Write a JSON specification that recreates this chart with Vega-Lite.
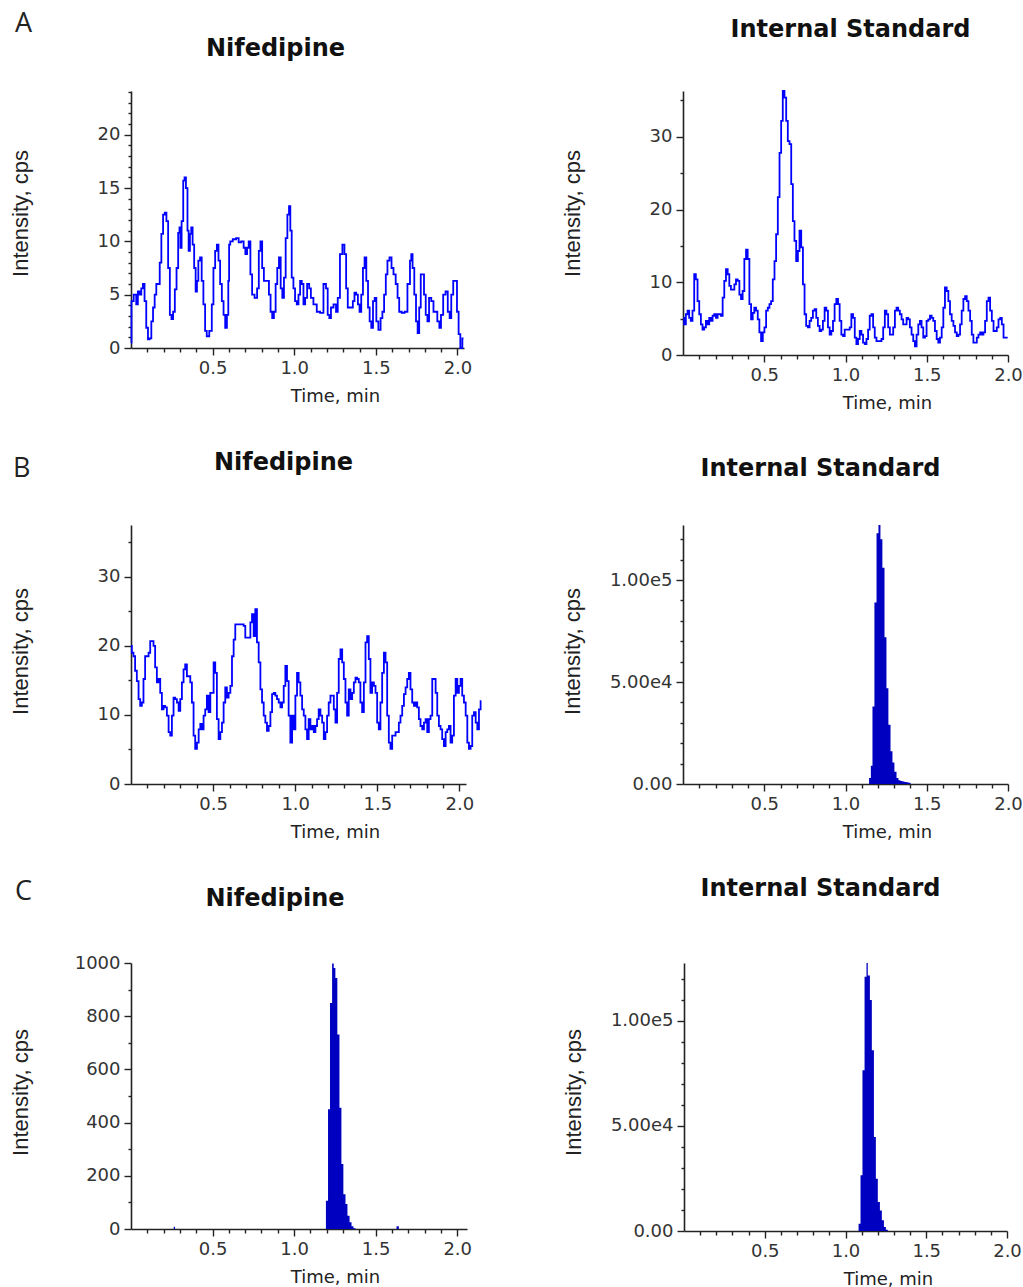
{
"$schema": "https://vega.github.io/schema/vega-lite/v6.json",
"background": "white",
"padding": {"left": 8, "top": 10, "right": 5, "bottom": 5},
"config": {
  "view": {"stroke": null},
  "axis": {"grid": false, "domainColor": "#222", "domainWidth": 1.6, "tickColor": "#222", "tickWidth": 1.4, "labelFont": "DejaVu Sans", "labelFontSize": 18, "labelColor": "#333", "labelOverlap": false, "labelBound": false, "labelFlush": false, "labelPadding": 4},
  "axisX": {"titleFont": "DejaVu Sans", "titleFontSize": 18, "titleFontWeight": "normal", "titleColor": "#222", "titleX": 204, "titleY": 48, "titleBaseline": "middle"},
  "axisY": {"titleFont": "Liberation Sans", "titleFontSize": 22, "titleFontWeight": "normal", "titleColor": "#222", "titleX": -111, "titleBaseline": "middle", "titleAngle": -90},
  "title": {"font": "DejaVu Sans", "fontSize": 24, "fontWeight": "bold", "color": "#111", "anchor": "middle", "baseline": "alphabetic"}
},
"datasets": {
"a1": [{"t":0.000,"v":0.5},{"t":0.006,"v":4.4},{"t":0.027,"v":5.0},{"t":0.037,"v":4.1},{"t":0.047,"v":5.3},{"t":0.058,"v":5.0},{"t":0.068,"v":5.6},{"t":0.078,"v":6.0},{"t":0.088,"v":4.4},{"t":0.099,"v":1.9},{"t":0.109,"v":0.8},{"t":0.119,"v":0.9},{"t":0.130,"v":2.5},{"t":0.140,"v":3.8},{"t":0.150,"v":5.0},{"t":0.160,"v":6.0},{"t":0.171,"v":6.0},{"t":0.181,"v":8.0},{"t":0.191,"v":10.7},{"t":0.202,"v":12.5},{"t":0.212,"v":12.7},{"t":0.222,"v":11.9},{"t":0.233,"v":7.5},{"t":0.243,"v":3.1},{"t":0.253,"v":2.7},{"t":0.263,"v":3.4},{"t":0.274,"v":5.5},{"t":0.284,"v":7.5},{"t":0.294,"v":10.8},{"t":0.300,"v":11.3},{"t":0.305,"v":9.4},{"t":0.315,"v":11.9},{"t":0.325,"v":15.7},{"t":0.331,"v":16.0},{"t":0.342,"v":15.0},{"t":0.350,"v":11.0},{"t":0.356,"v":9.1},{"t":0.366,"v":10.7},{"t":0.372,"v":11.3},{"t":0.383,"v":9.7},{"t":0.391,"v":7.5},{"t":0.401,"v":5.3},{"t":0.407,"v":6.3},{"t":0.418,"v":8.2},{"t":0.428,"v":8.5},{"t":0.438,"v":6.3},{"t":0.449,"v":4.1},{"t":0.459,"v":1.6},{"t":0.469,"v":1.1},{"t":0.490,"v":1.6},{"t":0.500,"v":4.1},{"t":0.510,"v":7.5},{"t":0.521,"v":9.1},{"t":0.531,"v":9.7},{"t":0.541,"v":8.2},{"t":0.551,"v":6.0},{"t":0.562,"v":4.4},{"t":0.572,"v":3.1},{"t":0.582,"v":1.9},{"t":0.593,"v":3.1},{"t":0.599,"v":6.3},{"t":0.603,"v":9.7},{"t":0.613,"v":10.0},{"t":0.634,"v":10.2},{"t":0.654,"v":10.3},{"t":0.665,"v":9.9},{"t":0.685,"v":10.0},{"t":0.695,"v":9.4},{"t":0.706,"v":8.8},{"t":0.716,"v":9.4},{"t":0.726,"v":10.0},{"t":0.737,"v":6.9},{"t":0.747,"v":5.0},{"t":0.767,"v":4.7},{"t":0.778,"v":5.6},{"t":0.788,"v":9.1},{"t":0.798,"v":10.0},{"t":0.809,"v":7.5},{"t":0.819,"v":6.3},{"t":0.840,"v":6.3},{"t":0.850,"v":5.0},{"t":0.860,"v":3.4},{"t":0.870,"v":2.8},{"t":0.881,"v":3.4},{"t":0.891,"v":6.0},{"t":0.901,"v":7.5},{"t":0.912,"v":8.5},{"t":0.922,"v":5.6},{"t":0.932,"v":4.7},{"t":0.942,"v":6.6},{"t":0.953,"v":10.3},{"t":0.963,"v":12.5},{"t":0.973,"v":13.3},{"t":0.979,"v":11.0},{"t":0.990,"v":6.6},{"t":1.000,"v":5.6},{"t":1.010,"v":4.4},{"t":1.021,"v":4.1},{"t":1.031,"v":5.0},{"t":1.041,"v":6.3},{"t":1.051,"v":6.0},{"t":1.062,"v":4.1},{"t":1.072,"v":4.7},{"t":1.086,"v":6.0},{"t":1.097,"v":5.6},{"t":1.107,"v":4.7},{"t":1.128,"v":4.1},{"t":1.148,"v":3.4},{"t":1.169,"v":3.3},{"t":1.189,"v":6.0},{"t":1.200,"v":5.6},{"t":1.210,"v":3.1},{"t":1.220,"v":2.8},{"t":1.230,"v":3.8},{"t":1.251,"v":4.1},{"t":1.261,"v":3.4},{"t":1.272,"v":4.7},{"t":1.288,"v":8.8},{"t":1.302,"v":9.7},{"t":1.313,"v":8.8},{"t":1.323,"v":5.6},{"t":1.333,"v":3.8},{"t":1.354,"v":3.8},{"t":1.364,"v":4.4},{"t":1.374,"v":5.2},{"t":1.385,"v":5.0},{"t":1.395,"v":4.1},{"t":1.405,"v":3.4},{"t":1.416,"v":5.0},{"t":1.426,"v":7.5},{"t":1.436,"v":8.5},{"t":1.447,"v":6.3},{"t":1.457,"v":3.8},{"t":1.467,"v":2.5},{"t":1.477,"v":1.9},{"t":1.488,"v":4.4},{"t":1.498,"v":4.7},{"t":1.508,"v":2.5},{"t":1.523,"v":1.7},{"t":1.535,"v":2.8},{"t":1.545,"v":3.4},{"t":1.556,"v":5.0},{"t":1.566,"v":6.9},{"t":1.576,"v":8.2},{"t":1.591,"v":8.5},{"t":1.601,"v":7.5},{"t":1.615,"v":6.9},{"t":1.628,"v":6.0},{"t":1.638,"v":4.7},{"t":1.648,"v":3.4},{"t":1.669,"v":3.3},{"t":1.683,"v":3.4},{"t":1.704,"v":6.0},{"t":1.714,"v":8.2},{"t":1.720,"v":8.8},{"t":1.730,"v":7.5},{"t":1.741,"v":5.0},{"t":1.751,"v":2.5},{"t":1.761,"v":1.4},{"t":1.770,"v":3.8},{"t":1.780,"v":6.9},{"t":1.790,"v":6.9},{"t":1.800,"v":5.0},{"t":1.811,"v":3.1},{"t":1.821,"v":2.5},{"t":1.831,"v":4.7},{"t":1.848,"v":4.4},{"t":1.858,"v":3.4},{"t":1.868,"v":3.4},{"t":1.885,"v":2.5},{"t":1.893,"v":1.9},{"t":1.905,"v":3.1},{"t":1.920,"v":5.0},{"t":1.934,"v":5.3},{"t":1.947,"v":3.4},{"t":1.957,"v":2.8},{"t":1.967,"v":5.0},{"t":1.981,"v":6.3},{"t":1.992,"v":6.3},{"t":2.002,"v":3.4},{"t":2.012,"v":1.3},{"t":2.023,"v":0.0},{"t":2.037,"v":0.9}],
"a2": [{"t":0.002,"v":5.1},{"t":0.012,"v":4.2},{"t":0.023,"v":5.6},{"t":0.033,"v":6.1},{"t":0.043,"v":5.1},{"t":0.053,"v":4.7},{"t":0.064,"v":6.1},{"t":0.074,"v":11.1},{"t":0.084,"v":10.4},{"t":0.095,"v":7.4},{"t":0.105,"v":5.6},{"t":0.115,"v":4.2},{"t":0.125,"v":3.5},{"t":0.136,"v":3.8},{"t":0.146,"v":4.7},{"t":0.156,"v":4.2},{"t":0.167,"v":5.1},{"t":0.177,"v":4.7},{"t":0.187,"v":5.4},{"t":0.198,"v":5.6},{"t":0.208,"v":5.1},{"t":0.218,"v":5.6},{"t":0.228,"v":5.6},{"t":0.239,"v":5.4},{"t":0.249,"v":7.9},{"t":0.259,"v":10.2},{"t":0.270,"v":11.8},{"t":0.280,"v":11.1},{"t":0.290,"v":9.5},{"t":0.300,"v":9.0},{"t":0.311,"v":9.0},{"t":0.321,"v":9.7},{"t":0.331,"v":10.4},{"t":0.342,"v":10.2},{"t":0.352,"v":8.3},{"t":0.362,"v":7.7},{"t":0.372,"v":8.8},{"t":0.383,"v":13.2},{"t":0.393,"v":14.5},{"t":0.403,"v":13.2},{"t":0.414,"v":7.0},{"t":0.424,"v":4.9},{"t":0.434,"v":5.8},{"t":0.444,"v":6.5},{"t":0.455,"v":6.1},{"t":0.465,"v":4.9},{"t":0.475,"v":3.1},{"t":0.486,"v":1.9},{"t":0.496,"v":3.1},{"t":0.506,"v":3.8},{"t":0.517,"v":6.1},{"t":0.527,"v":6.5},{"t":0.537,"v":7.0},{"t":0.547,"v":7.4},{"t":0.558,"v":10.4},{"t":0.568,"v":12.9},{"t":0.578,"v":16.6},{"t":0.589,"v":21.7},{"t":0.599,"v":27.8},{"t":0.609,"v":32.2},{"t":0.619,"v":36.3},{"t":0.630,"v":35.4},{"t":0.640,"v":32.2},{"t":0.650,"v":29.4},{"t":0.661,"v":29.0},{"t":0.671,"v":23.5},{"t":0.681,"v":18.4},{"t":0.691,"v":15.7},{"t":0.702,"v":12.9},{"t":0.712,"v":14.3},{"t":0.722,"v":17.1},{"t":0.733,"v":14.8},{"t":0.743,"v":9.7},{"t":0.753,"v":5.6},{"t":0.763,"v":4.0},{"t":0.774,"v":3.8},{"t":0.784,"v":4.7},{"t":0.794,"v":5.1},{"t":0.805,"v":6.1},{"t":0.815,"v":6.3},{"t":0.825,"v":5.1},{"t":0.835,"v":4.0},{"t":0.846,"v":3.3},{"t":0.856,"v":3.5},{"t":0.866,"v":4.7},{"t":0.877,"v":6.5},{"t":0.887,"v":6.1},{"t":0.897,"v":3.8},{"t":0.908,"v":2.8},{"t":0.918,"v":3.3},{"t":0.928,"v":4.7},{"t":0.938,"v":7.0},{"t":0.949,"v":7.7},{"t":0.959,"v":7.0},{"t":0.969,"v":4.7},{"t":0.980,"v":2.8},{"t":0.990,"v":2.6},{"t":1.000,"v":3.5},{"t":1.010,"v":3.5},{"t":1.021,"v":3.5},{"t":1.031,"v":3.8},{"t":1.041,"v":5.6},{"t":1.052,"v":5.1},{"t":1.062,"v":2.4},{"t":1.072,"v":1.5},{"t":1.082,"v":2.2},{"t":1.093,"v":3.3},{"t":1.103,"v":2.8},{"t":1.113,"v":1.7},{"t":1.124,"v":1.5},{"t":1.134,"v":2.2},{"t":1.144,"v":3.5},{"t":1.154,"v":5.4},{"t":1.165,"v":5.6},{"t":1.175,"v":3.8},{"t":1.185,"v":2.4},{"t":1.196,"v":1.9},{"t":1.206,"v":1.9},{"t":1.216,"v":1.9},{"t":1.227,"v":2.2},{"t":1.237,"v":3.8},{"t":1.247,"v":6.1},{"t":1.257,"v":5.6},{"t":1.268,"v":3.8},{"t":1.278,"v":2.8},{"t":1.288,"v":2.8},{"t":1.299,"v":3.8},{"t":1.309,"v":6.1},{"t":1.319,"v":6.5},{"t":1.329,"v":6.1},{"t":1.340,"v":5.6},{"t":1.350,"v":4.9},{"t":1.360,"v":4.2},{"t":1.371,"v":4.2},{"t":1.381,"v":5.1},{"t":1.391,"v":4.9},{"t":1.401,"v":3.8},{"t":1.412,"v":2.8},{"t":1.422,"v":1.9},{"t":1.432,"v":1.2},{"t":1.443,"v":2.8},{"t":1.453,"v":4.2},{"t":1.463,"v":4.7},{"t":1.473,"v":3.8},{"t":1.484,"v":2.4},{"t":1.494,"v":2.6},{"t":1.504,"v":4.7},{"t":1.515,"v":4.9},{"t":1.525,"v":5.4},{"t":1.535,"v":5.1},{"t":1.545,"v":4.7},{"t":1.556,"v":3.3},{"t":1.566,"v":2.2},{"t":1.576,"v":1.7},{"t":1.587,"v":2.4},{"t":1.597,"v":3.8},{"t":1.607,"v":6.5},{"t":1.617,"v":9.3},{"t":1.628,"v":8.8},{"t":1.638,"v":7.4},{"t":1.648,"v":5.6},{"t":1.659,"v":4.7},{"t":1.669,"v":4.0},{"t":1.679,"v":3.1},{"t":1.690,"v":2.6},{"t":1.700,"v":2.8},{"t":1.710,"v":4.2},{"t":1.720,"v":6.1},{"t":1.731,"v":7.7},{"t":1.741,"v":8.1},{"t":1.751,"v":7.4},{"t":1.762,"v":6.1},{"t":1.772,"v":4.7},{"t":1.782,"v":2.8},{"t":1.792,"v":1.7},{"t":1.803,"v":1.7},{"t":1.813,"v":2.4},{"t":1.823,"v":2.8},{"t":1.834,"v":3.1},{"t":1.844,"v":2.8},{"t":1.854,"v":3.1},{"t":1.864,"v":4.7},{"t":1.875,"v":7.4},{"t":1.885,"v":7.9},{"t":1.895,"v":6.1},{"t":1.906,"v":4.7},{"t":1.916,"v":3.3},{"t":1.926,"v":3.3},{"t":1.936,"v":3.8},{"t":1.947,"v":4.9},{"t":1.957,"v":5.1},{"t":1.967,"v":4.2},{"t":1.978,"v":2.4},{"t":1.988,"v":2.4},{"t":1.998,"v":2.4}],
"b1": [{"t":0.000,"v":20.0},{"t":0.010,"v":19.0},{"t":0.020,"v":18.5},{"t":0.030,"v":16.4},{"t":0.041,"v":14.9},{"t":0.051,"v":12.3},{"t":0.061,"v":11.3},{"t":0.071,"v":11.8},{"t":0.081,"v":15.2},{"t":0.091,"v":18.5},{"t":0.102,"v":18.5},{"t":0.112,"v":19.0},{"t":0.122,"v":20.7},{"t":0.132,"v":20.7},{"t":0.142,"v":20.0},{"t":0.152,"v":16.9},{"t":0.163,"v":14.7},{"t":0.173,"v":15.2},{"t":0.183,"v":13.2},{"t":0.193,"v":10.8},{"t":0.203,"v":11.3},{"t":0.213,"v":11.1},{"t":0.224,"v":9.9},{"t":0.234,"v":7.5},{"t":0.244,"v":7.0},{"t":0.254,"v":9.9},{"t":0.264,"v":12.5},{"t":0.274,"v":12.3},{"t":0.285,"v":11.8},{"t":0.295,"v":10.6},{"t":0.305,"v":12.3},{"t":0.315,"v":14.7},{"t":0.325,"v":16.6},{"t":0.335,"v":17.3},{"t":0.346,"v":15.6},{"t":0.356,"v":15.6},{"t":0.366,"v":14.7},{"t":0.376,"v":11.8},{"t":0.386,"v":7.0},{"t":0.396,"v":5.1},{"t":0.407,"v":6.0},{"t":0.417,"v":7.9},{"t":0.427,"v":8.7},{"t":0.437,"v":7.9},{"t":0.447,"v":9.9},{"t":0.457,"v":10.8},{"t":0.467,"v":12.8},{"t":0.478,"v":10.4},{"t":0.488,"v":13.2},{"t":0.498,"v":13.2},{"t":0.508,"v":17.6},{"t":0.518,"v":16.1},{"t":0.528,"v":9.4},{"t":0.539,"v":6.5},{"t":0.549,"v":7.5},{"t":0.559,"v":8.9},{"t":0.569,"v":11.8},{"t":0.579,"v":14.0},{"t":0.589,"v":12.5},{"t":0.600,"v":13.2},{"t":0.610,"v":14.2},{"t":0.620,"v":18.5},{"t":0.630,"v":20.9},{"t":0.640,"v":23.1},{"t":0.650,"v":23.1},{"t":0.661,"v":23.1},{"t":0.671,"v":23.1},{"t":0.681,"v":23.1},{"t":0.691,"v":22.9},{"t":0.701,"v":21.2},{"t":0.711,"v":21.2},{"t":0.722,"v":21.2},{"t":0.732,"v":23.4},{"t":0.742,"v":24.6},{"t":0.752,"v":21.4},{"t":0.762,"v":25.3},{"t":0.772,"v":20.5},{"t":0.783,"v":17.6},{"t":0.793,"v":13.7},{"t":0.803,"v":11.8},{"t":0.813,"v":9.9},{"t":0.823,"v":8.9},{"t":0.833,"v":7.7},{"t":0.844,"v":8.4},{"t":0.854,"v":10.4},{"t":0.864,"v":13.0},{"t":0.874,"v":13.2},{"t":0.884,"v":12.8},{"t":0.894,"v":12.3},{"t":0.905,"v":11.8},{"t":0.915,"v":11.1},{"t":0.925,"v":11.8},{"t":0.935,"v":14.2},{"t":0.945,"v":17.1},{"t":0.955,"v":14.9},{"t":0.965,"v":9.9},{"t":0.976,"v":6.0},{"t":0.986,"v":9.9},{"t":0.996,"v":7.9},{"t":1.006,"v":12.8},{"t":1.016,"v":16.1},{"t":1.026,"v":14.7},{"t":1.037,"v":12.8},{"t":1.047,"v":10.8},{"t":1.057,"v":9.9},{"t":1.067,"v":7.9},{"t":1.077,"v":6.5},{"t":1.087,"v":9.4},{"t":1.098,"v":7.9},{"t":1.108,"v":8.4},{"t":1.118,"v":7.5},{"t":1.128,"v":8.4},{"t":1.138,"v":9.4},{"t":1.148,"v":10.8},{"t":1.159,"v":9.9},{"t":1.169,"v":8.9},{"t":1.179,"v":6.5},{"t":1.189,"v":7.5},{"t":1.199,"v":9.9},{"t":1.209,"v":11.8},{"t":1.220,"v":12.8},{"t":1.230,"v":12.8},{"t":1.240,"v":10.8},{"t":1.250,"v":8.9},{"t":1.260,"v":13.2},{"t":1.270,"v":18.1},{"t":1.281,"v":19.5},{"t":1.291,"v":17.6},{"t":1.301,"v":15.2},{"t":1.311,"v":11.8},{"t":1.321,"v":9.9},{"t":1.331,"v":13.7},{"t":1.342,"v":12.3},{"t":1.352,"v":13.2},{"t":1.362,"v":14.7},{"t":1.372,"v":15.4},{"t":1.382,"v":15.2},{"t":1.392,"v":14.7},{"t":1.402,"v":11.8},{"t":1.413,"v":10.4},{"t":1.423,"v":14.7},{"t":1.433,"v":20.5},{"t":1.443,"v":21.4},{"t":1.453,"v":18.1},{"t":1.463,"v":13.2},{"t":1.474,"v":14.7},{"t":1.484,"v":14.2},{"t":1.494,"v":13.2},{"t":1.504,"v":8.9},{"t":1.514,"v":7.9},{"t":1.524,"v":11.8},{"t":1.535,"v":16.1},{"t":1.545,"v":19.0},{"t":1.555,"v":17.6},{"t":1.565,"v":9.9},{"t":1.575,"v":6.0},{"t":1.585,"v":5.1},{"t":1.596,"v":7.0},{"t":1.606,"v":7.0},{"t":1.616,"v":7.5},{"t":1.626,"v":7.5},{"t":1.636,"v":8.9},{"t":1.646,"v":9.9},{"t":1.657,"v":11.3},{"t":1.667,"v":13.0},{"t":1.677,"v":14.0},{"t":1.687,"v":15.2},{"t":1.697,"v":16.1},{"t":1.707,"v":13.7},{"t":1.718,"v":11.8},{"t":1.728,"v":11.3},{"t":1.738,"v":11.8},{"t":1.748,"v":11.1},{"t":1.758,"v":9.4},{"t":1.768,"v":8.4},{"t":1.779,"v":7.9},{"t":1.789,"v":8.9},{"t":1.799,"v":9.4},{"t":1.809,"v":7.5},{"t":1.819,"v":9.4},{"t":1.829,"v":9.9},{"t":1.840,"v":15.2},{"t":1.850,"v":15.2},{"t":1.860,"v":13.2},{"t":1.870,"v":9.9},{"t":1.880,"v":8.4},{"t":1.890,"v":7.9},{"t":1.900,"v":6.5},{"t":1.911,"v":5.5},{"t":1.921,"v":7.5},{"t":1.931,"v":7.9},{"t":1.941,"v":8.4},{"t":1.951,"v":6.0},{"t":1.961,"v":7.0},{"t":1.972,"v":12.8},{"t":1.982,"v":15.2},{"t":1.992,"v":13.2},{"t":2.002,"v":14.2},{"t":2.012,"v":15.2},{"t":2.022,"v":12.8},{"t":2.033,"v":11.8},{"t":2.043,"v":9.9},{"t":2.053,"v":6.0},{"t":2.063,"v":5.1},{"t":2.073,"v":5.5},{"t":2.083,"v":9.9},{"t":2.094,"v":10.4},{"t":2.104,"v":8.9},{"t":2.114,"v":7.9},{"t":2.124,"v":10.8},{"t":2.134,"v":12.0}],
"b2": [{"t":0,"v":0},{"t":1.145,"v":3000},{"t":1.156,"v":9000},{"t":1.166,"v":38000},{"t":1.178,"v":89000},{"t":1.191,"v":123000},{"t":1.203,"v":127000},{"t":1.215,"v":120000},{"t":1.227,"v":106000},{"t":1.240,"v":72000},{"t":1.252,"v":47000},{"t":1.264,"v":29000},{"t":1.277,"v":16000},{"t":1.289,"v":10500},{"t":1.301,"v":6000},{"t":1.314,"v":3000},{"t":1.326,"v":1800},{"t":1.338,"v":1500},{"t":1.350,"v":1200},{"t":1.363,"v":1000},{"t":1.375,"v":800},{"t":1.387,"v":600},{"t":1.400,"v":0},{"t":2.0,"v":0}],
"c1": [{"t":0,"v":0},{"t":0.255,"v":0},{"t":0.262,"v":8},{"t":0.270,"v":0},{"t":1.180,"v":0},{"t":1.195,"v":106},{"t":1.208,"v":450},{"t":1.220,"v":850},{"t":1.233,"v":998},{"t":1.243,"v":981},{"t":1.253,"v":944},{"t":1.265,"v":731},{"t":1.278,"v":456},{"t":1.290,"v":244},{"t":1.302,"v":131},{"t":1.315,"v":94},{"t":1.327,"v":50},{"t":1.340,"v":25},{"t":1.352,"v":10},{"t":1.364,"v":3},{"t":1.377,"v":0},{"t":1.620,"v":0},{"t":1.628,"v":10},{"t":1.642,"v":0},{"t":2.06,"v":0}],
"c2": [{"t":0,"v":0},{"t":1.081,"v":3500},{"t":1.093,"v":26500},{"t":1.105,"v":76500},{"t":1.118,"v":121000},{"t":1.130,"v":127600},{"t":1.138,"v":121700},{"t":1.151,"v":110000},{"t":1.163,"v":86000},{"t":1.176,"v":44800},{"t":1.188,"v":24900},{"t":1.200,"v":13800},{"t":1.213,"v":9800},{"t":1.225,"v":5100},{"t":1.238,"v":1900},{"t":1.250,"v":600},{"t":1.262,"v":0},{"t":2.0,"v":0}]
},
"spacing": 36,
"vconcat": [
{
"spacing": 39,
"vconcat": [
{
 "title": {"text": "A", "anchor": "start", "frame": "bounds", "font": "Open Sans", "fontSize": 27, "fontWeight": "normal", "color": "#222", "offset": -20, "dx": 6},
 "bounds": "flush", "spacing": 219,
 "hconcat": [
  {"width": 333, "height": 257, "data": {"name": "a1"},
   "title": {"text": "Nifedipine", "offset": 22, "dx": -22},
   "mark": {"type": "line", "interpolate": "step", "color": "#0000FF", "strokeWidth": 1.8},
   "encoding": {
    "x": {"field": "t", "type": "quantitative", "scale": {"domain": [0, 2.04], "nice": false, "zero": false},
      "axis": {"title": "Time, min", "values": [0.1,0.2,0.3,0.4,0.5,0.6,0.7,0.8,0.9,1.0,1.1,1.2,1.3,1.4,1.5,1.6,1.7,1.8,1.9,2.0], "format": ".1f", "labelExpr": "abs(datum.value*2-round(datum.value*2))<0.01 ? datum.label : ''", "tickSize": {"condition": {"test": "abs(datum.value*2-round(datum.value*2))<0.01", "value": 7}, "value": 4}}},
    "y": {"field": "v", "type": "quantitative", "scale": {"domain": [0, 24.1], "nice": false},
      "axis": {"title": "Intensity, cps", "titleY": 122, "values": [0,1,2,3,4,5,6,7,8,9,10,11,12,13,14,15,16,17,18,19,20,21,22,23,24], "labelExpr": "datum.value % 5 === 0 ? datum.label : ''", "tickSize": {"condition": {"test": "datum.value % 5 === 0", "value": 7}, "value": 3}}}
   }},
  {"width": 325, "height": 264, "data": {"name": "a2"},
   "title": {"text": "Internal Standard", "offset": 45, "dx": 5},
   "mark": {"type": "line", "interpolate": "step", "color": "#0000FF", "strokeWidth": 1.8},
   "encoding": {
    "x": {"field": "t", "type": "quantitative", "scale": {"domain": [0, 2.0], "nice": false, "zero": false},
      "axis": {"title": "Time, min", "values": [0.1,0.2,0.3,0.4,0.5,0.6,0.7,0.8,0.9,1.0,1.1,1.2,1.3,1.4,1.5,1.6,1.7,1.8,1.9,2.0], "format": ".1f", "labelExpr": "abs(datum.value*2-round(datum.value*2))<0.01 ? datum.label : ''", "tickSize": {"condition": {"test": "abs(datum.value*2-round(datum.value*2))<0.01", "value": 7}, "value": 4}}},
    "y": {"field": "v", "type": "quantitative", "scale": {"domain": [0, 36.3], "nice": false},
      "axis": {"title": "Intensity, cps", "titleY": 122, "values": [0,5,10,15,20,25,30,35], "labelExpr": "datum.value % 10 === 0 ? datum.label : ''", "tickSize": {"condition": {"test": "datum.value % 10 === 0", "value": 7}, "value": 3}}}
   }}
 ]
},
{
 "title": {"text": "B", "anchor": "start", "frame": "bounds", "font": "Open Sans", "fontSize": 27, "fontWeight": "normal", "color": "#222", "offset": -32, "dx": 4},
 "bounds": "flush", "spacing": 217,
 "hconcat": [
  {"width": 335, "height": 259, "data": {"name": "b1"},
   "title": {"text": "Nifedipine", "offset": 50, "dx": -15},
   "mark": {"type": "line", "interpolate": "step", "color": "#0000FF", "strokeWidth": 1.8},
   "encoding": {
    "x": {"field": "t", "type": "quantitative", "scale": {"domain": [0, 2.04], "nice": false, "zero": false},
      "axis": {"title": "Time, min", "values": [0.1,0.2,0.3,0.4,0.5,0.6,0.7,0.8,0.9,1.0,1.1,1.2,1.3,1.4,1.5,1.6,1.7,1.8,1.9,2.0], "format": ".1f", "labelExpr": "abs(datum.value*2-round(datum.value*2))<0.01 ? datum.label : ''", "tickSize": {"condition": {"test": "abs(datum.value*2-round(datum.value*2))<0.01", "value": 7}, "value": 4}}},
    "y": {"field": "v", "type": "quantitative", "scale": {"domain": [0, 37.5], "nice": false},
      "axis": {"title": "Intensity, cps", "titleY": 126, "values": [0,5,10,15,20,25,30,35], "labelExpr": "datum.value % 10 === 0 ? datum.label : ''", "tickSize": {"condition": {"test": "datum.value % 10 === 0", "value": 7}, "value": 3}}}
   }},
  {"width": 325, "height": 259, "data": {"name": "b2"},
   "title": {"text": "Internal Standard", "offset": 44, "dx": -25},
   "mark": {"type": "area", "interpolate": "step-after", "color": "#0000C0", "opacity": 1},
   "encoding": {
    "x": {"field": "t", "type": "quantitative", "scale": {"domain": [0, 2.0], "nice": false, "zero": false},
      "axis": {"title": "Time, min", "values": [0.1,0.2,0.3,0.4,0.5,0.6,0.7,0.8,0.9,1.0,1.1,1.2,1.3,1.4,1.5,1.6,1.7,1.8,1.9,2.0], "format": ".1f", "labelExpr": "abs(datum.value*2-round(datum.value*2))<0.01 ? datum.label : ''", "tickSize": {"condition": {"test": "abs(datum.value*2-round(datum.value*2))<0.01", "value": 7}, "value": 4}}},
    "y": {"field": "v", "type": "quantitative", "scale": {"domain": [0, 127000], "nice": false},
      "axis": {"title": "Intensity, cps", "titleY": 126, "values": [0,10000,20000,30000,40000,50000,60000,70000,80000,90000,100000,110000,120000], "labelExpr": "datum.value === 0 ? '0.00' : (datum.value % 50000 === 0 ? replace(format(datum.value, '.2e'), '+', '') : '')", "tickSize": {"condition": {"test": "datum.value % 50000 === 0", "value": 7}, "value": 3}}}
   }}
 ]
}
]
},
{
 "title": {"text": "C", "anchor": "start", "frame": "bounds", "font": "Open Sans", "fontSize": 27, "fontWeight": "normal", "color": "#222", "offset": -29, "dx": 6},
 "bounds": "flush", "spacing": 217,
 "hconcat": [
  {"width": 336, "height": 266, "data": {"name": "c1"},
   "title": {"text": "Nifedipine", "offset": 43, "dx": -24},
   "mark": {"type": "area", "interpolate": "step-after", "color": "#0000C0", "opacity": 1},
   "encoding": {
    "x": {"field": "t", "type": "quantitative", "scale": {"domain": [0, 2.06], "nice": false, "zero": false},
      "axis": {"title": "Time, min", "values": [0.1,0.2,0.3,0.4,0.5,0.6,0.7,0.8,0.9,1.0,1.1,1.2,1.3,1.4,1.5,1.6,1.7,1.8,1.9,2.0], "format": ".1f", "labelExpr": "abs(datum.value*2-round(datum.value*2))<0.01 ? datum.label : ''", "tickSize": {"condition": {"test": "abs(datum.value*2-round(datum.value*2))<0.01", "value": 7}, "value": 4}}},
    "y": {"field": "v", "type": "quantitative", "scale": {"domain": [0, 1000], "nice": false},
      "axis": {"title": "Intensity, cps", "titleY": 129, "format": "d", "values": [0,100,200,300,400,500,600,700,800,900,1000], "labelExpr": "datum.value % 200 === 0 ? datum.label : ''", "tickSize": {"condition": {"test": "datum.value % 200 === 0", "value": 7}, "value": 3}}}
   }},
  {"width": 323, "height": 268, "data": {"name": "c2"},
   "title": {"text": "Internal Standard", "offset": 62, "dx": -25},
   "mark": {"type": "area", "interpolate": "step-after", "color": "#0000C0", "opacity": 1},
   "encoding": {
    "x": {"field": "t", "type": "quantitative", "scale": {"domain": [0, 2.0], "nice": false, "zero": false},
      "axis": {"title": "Time, min", "values": [0.1,0.2,0.3,0.4,0.5,0.6,0.7,0.8,0.9,1.0,1.1,1.2,1.3,1.4,1.5,1.6,1.7,1.8,1.9,2.0], "format": ".1f", "labelExpr": "abs(datum.value*2-round(datum.value*2))<0.01 ? datum.label : ''", "tickSize": {"condition": {"test": "abs(datum.value*2-round(datum.value*2))<0.01", "value": 7}, "value": 4}}},
    "y": {"field": "v", "type": "quantitative", "scale": {"domain": [0, 127600], "nice": false},
      "axis": {"title": "Intensity, cps", "titleY": 129, "values": [0,10000,20000,30000,40000,50000,60000,70000,80000,90000,100000,110000,120000], "labelExpr": "datum.value === 0 ? '0.00' : (datum.value % 50000 === 0 ? replace(format(datum.value, '.2e'), '+', '') : '')", "tickSize": {"condition": {"test": "datum.value % 50000 === 0", "value": 7}, "value": 3}}}
   }}
 ]
}
]
}
